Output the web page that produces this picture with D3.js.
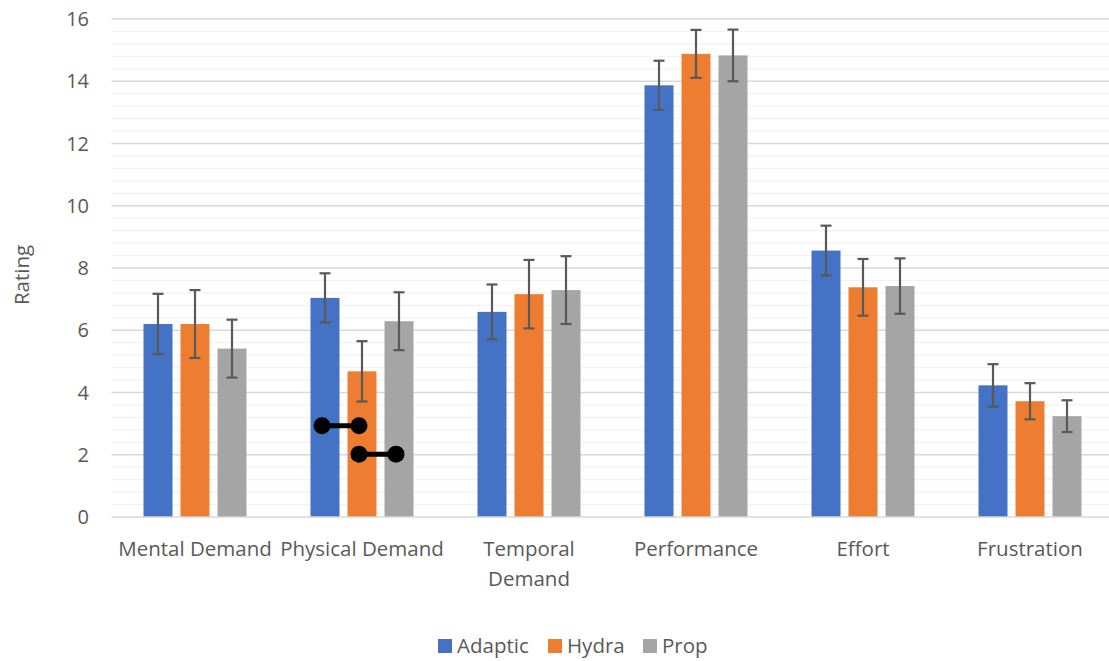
<!DOCTYPE html>
<html><head><meta charset="utf-8">
<script src="https://cdn.jsdelivr.net/npm/d3@7"></script>
<style>
html,body{margin:0;padding:0;background:#fff;}
text{font-family:"Open Sans","Noto Sans",sans-serif;fill:#595959;}
</style></head>
<body><svg id="c" width="1109" height="661"></svg>
<script>
const categories = ["Mental Demand","Physical Demand","Temporal Demand","Performance","Effort","Frustration"];
const seriesNames = ["Adaptic","Hydra","Prop"];
const adaptic = [6.20, 7.04, 6.59, 13.87, 8.56, 4.23];
const hydra   = [6.20, 4.68, 7.16, 14.88, 7.38, 3.72];
const prop    = [5.41, 6.29, 7.29, 14.83, 7.42, 3.24];
const adapticErr = [0.97, 0.79, 0.88, 0.79, 0.80, 0.68];
const hydraErr   = [1.09, 0.97, 1.10, 0.77, 0.91, 0.58];
const propErr    = [0.93, 0.93, 1.09, 0.83, 0.89, 0.51];
const yTicks = [0,2,4,6,8,10,12,14,16];
// significance links: [category, seriesA, seriesB, y value]
const sigLinks = [["Physical Demand","Adaptic","Hydra",2.93],["Physical Demand","Hydra","Prop",2.02]];
const colors = {"Adaptic":"#4472C4","Hydra":"#ED7D31","Prop":"#A5A5A5"};

const values = [adaptic, hydra, prop];
const errs = [adapticErr, hydraErr, propErr];
const svg = d3.select("#c");
const y = d3.scaleLinear().domain([0,16]).range([517,19]);
const x0 = d3.scaleBand().domain(categories).range([111.5,1113.5]).paddingInner(0).paddingOuter(0);
const step = x0.bandwidth();
const barW = 29, gap = 8;
const x1 = d3.scaleOrdinal().domain(seriesNames).range([-(barW+gap), 0, barW+gap]);
const cx = (c,s) => x0(c) + step/2 + x1(s);

// minor gridlines
const minor = d3.range(0,16.001,0.4).filter(v => Math.abs(v/2 - Math.round(v/2))>1e-6);
svg.append("g").selectAll("line").data(minor).join("line")
  .attr("x1",111.5).attr("x2",1109).attr("y1",d=>y(d)).attr("y2",d=>y(d))
  .attr("stroke","#F2F2F2").attr("stroke-width",1.3);
// major gridlines
svg.append("g").selectAll("line").data(yTicks.slice(1)).join("line")
  .attr("x1",111.5).attr("x2",1109).attr("y1",d=>y(d)).attr("y2",d=>y(d))
  .attr("stroke","#D9D9D9").attr("stroke-width",1.3);

// bars
const data = [];
categories.forEach((c,i)=>seriesNames.forEach((s,j)=>data.push({c,s,v:values[j][i],e:errs[j][i]})));
svg.append("g").selectAll("rect").data(data).join("rect")
  .attr("x",d=>cx(d.c,d.s)-barW/2).attr("width",barW)
  .attr("y",d=>y(d.v)).attr("height",d=>y(0)-y(d.v))
  .attr("fill",d=>colors[d.s]);

// axis line
svg.append("line").attr("x1",111.5).attr("x2",1109).attr("y1",y(0)).attr("y2",y(0))
  .attr("stroke","#D9D9D9").attr("stroke-width",1.5);

// error bars
const eb = svg.append("g").attr("stroke","#595959").attr("stroke-width",2.2);
data.forEach(d=>{
  const xc = cx(d.c,d.s);
  eb.append("line").attr("x1",xc).attr("x2",xc).attr("y1",y(d.v+d.e)).attr("y2",y(d.v-d.e));
  [d.v+d.e,d.v-d.e].forEach(v=>eb.append("line").attr("x1",xc-5.5).attr("x2",xc+5.5).attr("y1",y(v)).attr("y2",y(v)));
});

// significance markers
const sg = svg.append("g");
sigLinks.forEach(([c,a,b,v])=>{
  const xa = cx(c,a)-3, xb = cx(c,b)-3;
  sg.append("line").attr("x1",xa).attr("x2",xb).attr("y1",y(v)).attr("y2",y(v)).attr("stroke","#000").attr("stroke-width",5);
  [xa,xb].forEach(xx=>sg.append("circle").attr("cx",xx).attr("cy",y(v)).attr("r",8.5).attr("fill","#000"));
});

// y axis labels
svg.append("g").selectAll("text").data(yTicks).join("text")
  .attr("x",89).attr("y",d=>y(d)).attr("dy","0.36em").attr("text-anchor","end")
  .style("font-size","20px").text(d=>d);

svg.append("text").attr("transform","translate(29,275) rotate(-90)").attr("text-anchor","middle")
  .style("font-size","20.5px").text("Rating");

// x labels
const xl = svg.append("g");
categories.forEach(c=>{
  const lines = c==="Temporal Demand" ? ["Temporal","Demand"] : [c];
  const t = xl.append("text").attr("x",x0(c)+step/2).attr("y",556).attr("text-anchor","middle").style("font-size","20.5px");
  lines.forEach((l,i)=>t.append("tspan").attr("x",x0(c)+step/2).attr("dy",i?30:0).text(l));
});

// legend
const lg = svg.append("g");
const legX = [438,548,643];
seriesNames.forEach((s,i)=>{
  lg.append("rect").attr("x",legX[i]).attr("y",639).attr("width",14).attr("height",14).attr("fill",colors[s]);
  lg.append("text").attr("x",legX[i]+19).attr("y",646).attr("dy","0.36em").style("font-size","20.5px").text(s);
});
</script></body></html>
